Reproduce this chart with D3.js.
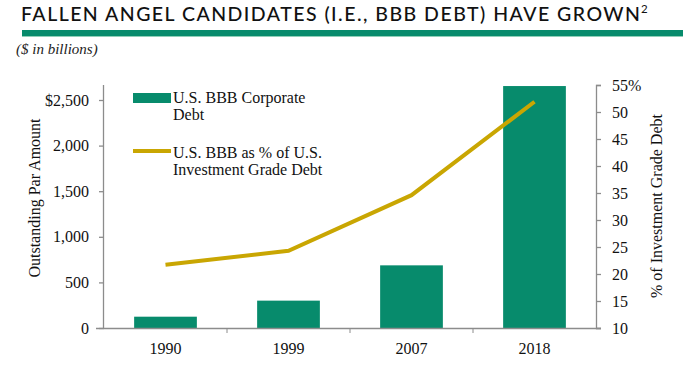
<!DOCTYPE html>
<html><head><meta charset="utf-8">
<script src="https://cdn.jsdelivr.net/npm/d3@7"></script>
<style>html,body{margin:0;padding:0;background:#fff;}svg{display:block;}</style>
</head><body>
<script>
const categories = ["1990", "1999", "2007", "2018"];
const bbbDebt = [124, 300, 687, 2653];
const bbbPct = [21.7, 24.3, 34.6, 51.9];
const leftTicks = [0, 500, 1000, 1500, 2000, 2500];
const rightTicks = [10, 15, 20, 25, 30, 35, 40, 45, 50, 55];

const W = 698, H = 367;
const green = "#078b6c", gold = "#c9a602", axisCol = "#8c8c8c";
const serif = "'Liberation Serif','Times New Roman',serif";

const svg = d3.select("body").append("svg").attr("width", W).attr("height", H);

// Title
svg.append("text").attr("x", 21).attr("y", 21)
  .attr("font-family", "Lato, 'Open Sans', sans-serif").attr("font-size", 19.5).attr("font-weight", 500)
  .attr("fill", "#111").attr("textLength", 619).attr("lengthAdjust", "spacing")
  .text("FALLEN ANGEL CANDIDATES (I.E., BBB DEBT) HAVE GROWN");
svg.append("text").attr("x", 641).attr("y", 13)
  .attr("font-family", "Lato, 'Open Sans', sans-serif").attr("font-size", 11.5)
  .attr("fill", "#111").text("2");
svg.append("rect").attr("x", 22).attr("y", 30).attr("width", 661).attr("height", 7).attr("fill", green);
svg.append("rect").attr("x", 22).attr("y", 36).attr("width", 661).attr("height", 1).attr("fill", "#8fcfb8");

svg.append("text").attr("x", 16).attr("y", 54)
  .attr("font-family", serif).attr("font-style", "italic").attr("font-size", 15)
  .attr("fill", "#222").text("($ in billions)");

// Scales
const x0 = 104, x1 = 596, yTop = 85, yBot = 328;
const x = d3.scaleBand().domain(categories).range([x0, x1]).paddingInner(0.49).paddingOuter(0.245);
const xb = d3.scaleBand().domain(categories).range([x0, x1]);
const yL = d3.scaleLinear().domain([0, 2500 * (yBot - yTop) / 228]).range([yBot, yTop]);
const yR = d3.scaleLinear().domain([10, 55]).range([yBot, yTop]);

// Bars
svg.append("g").selectAll("rect").data(categories).join("rect")
  .attr("x", d => x(d)).attr("width", x.bandwidth())
  .attr("y", (d, i) => yL(bbbDebt[i])).attr("height", (d, i) => yBot - yL(bbbDebt[i]))
  .attr("fill", green);

// Left axis
const gl = svg.append("g").attr("transform", `translate(${x0},0)`)
  .call(d3.axisLeft(yL).tickValues(leftTicks).tickSize(5).tickPadding(10)
    .tickFormat(d => d === 2500 ? "$2,500" : d3.format(",")(d)));
gl.select(".domain").attr("d", `M-0.5,${yTop}V${yBot}`);
// Right axis
const gr = svg.append("g").attr("transform", `translate(${x1},0)`)
  .call(d3.axisRight(yR).tickValues(rightTicks).tickSize(5).tickPadding(11)
    .tickFormat(d => d === 55 ? "55%" : d));
// X axis
const gx = svg.append("g").attr("transform", `translate(0,${yBot})`)
  .call(d3.axisBottom(xb).tickSize(0).tickPadding(15));
gx.select(".domain").attr("d", `M${x0 - 8},0.5H${x1 + 5}`);
gx.selectAll(".tick line").remove();
gx.selectAll(".bound").data(d3.range(1, categories.length)).join("line")
  .attr("x1", i => xb(categories[i])).attr("x2", i => xb(categories[i]))
  .attr("y1", 0).attr("y2", 5).attr("stroke", axisCol);

[gl, gr, gx].forEach(g => {
  g.selectAll(".domain").attr("stroke", axisCol).attr("stroke-width", 1.3);
  g.selectAll(".tick line").attr("stroke", axisCol).attr("stroke-width", 1.3);
  g.selectAll("text").attr("font-family", serif).attr("font-size", 16).attr("fill", "#111");
});

// Line
const line = d3.line().x((d, i) => xb(categories[i]) + xb.bandwidth() / 2).y(d => yR(d));
svg.append("path").datum(bbbPct).attr("d", line).attr("fill", "none")
  .attr("stroke", gold).attr("stroke-width", 4);

// Axis titles
svg.append("text").attr("transform", "translate(40,198) rotate(-90)").attr("text-anchor", "middle")
  .attr("font-family", serif).attr("font-size", 16).attr("fill", "#111").text("Outstanding Par Amount");
svg.append("text").attr("transform", "translate(662,206) rotate(-90)").attr("text-anchor", "middle")
  .attr("font-family", serif).attr("font-size", 16).attr("fill", "#111").text("% of Investment Grade Debt");

// Legend
const lg = svg.append("g").attr("font-family", serif).attr("font-size", 16).attr("fill", "#111");
lg.append("rect").attr("x", 133).attr("y", 93).attr("width", 38).attr("height", 10).attr("fill", green);
lg.append("text").attr("x", 173).attr("y", 103).text("U.S. BBB Corporate");
lg.append("text").attr("x", 173).attr("y", 120).text("Debt");
lg.append("line").attr("x1", 133).attr("x2", 171).attr("y1", 151).attr("y2", 151)
  .attr("stroke", gold).attr("stroke-width", 4);
lg.append("text").attr("x", 173).attr("y", 158).text("U.S. BBB as % of U.S.");
lg.append("text").attr("x", 173).attr("y", 175).text("Investment Grade Debt");
</script>
</body></html>
